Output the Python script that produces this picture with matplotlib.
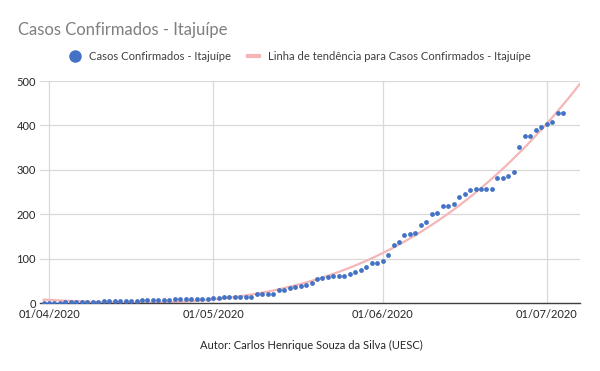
import matplotlib
matplotlib.use("Agg")
import matplotlib.pyplot as plt
import matplotlib.dates as mdates
import numpy as np
import pandas as pd
from matplotlib.lines import Line2D

plt.rcParams['font.family'] = ['Lato', 'DejaVu Sans']

title = "Casos Confirmados - Itajuípe"
series_label = "Casos Confirmados - Itajuípe"
trend_label = "Linha de tendência para Casos Confirmados - Itajuípe"
caption = "Autor: Carlos Henrique Souza da Silva (UESC)"

start_date = "2020-03-31"
values_march = [1]
values_april = [1, 1, 1, 2, 2, 2, 2, 3, 3, 3, 4, 4, 4, 5, 5,
                5, 5, 6, 6, 6, 7, 7, 7, 8, 8, 8, 9, 9, 10, 10]
values_may = [12, 12, 13, 13, 13, 13, 13, 13, 21, 21, 21, 21, 29, 30, 33, 35,
              39, 41, 46, 54, 57, 58, 61, 61, 60, 65, 70, 74, 81, 90, 90]
values_june = [95, 107, 131, 137, 154, 155, 158, 175, 182, 200, 203, 219, 219, 223, 239,
               246, 254, 256, 256, 256, 256, 281, 282, 285, 294, 352, 377, 377, 390, 397]
values_july = [404, 407, 428, 428]
tick_dates = ["2020-04-01", "2020-05-01", "2020-06-01", "2020-07-01"]
tick_labels = ["01/04/2020", "01/05/2020", "01/06/2020", "01/07/2020"]
forecast_days = 3

values = np.array(values_march + values_april + values_may + values_june + values_july, dtype=float)
dates = pd.date_range(start_date, periods=len(values), freq="D")

# polynomial trendline (Excel style), forecast forward
t = np.arange(len(values))
coef = np.polyfit(t, values, 3)
t_ext = np.arange(len(values) + forecast_days)
trend = np.polyval(coef, t_ext)
trend_dates = pd.date_range(start_date, periods=len(t_ext), freq="D")

fig = plt.figure(figsize=(6.0, 3.71), dpi=100)
ax = fig.add_axes([40/600, 1-303/371, 540/600, (303-81)/371])

blue = "#4472C4"
pink = "#F4B6B6"
ax.plot(trend_dates, trend, color=pink, lw=1.6, zorder=2)
ax.scatter(dates, values, s=12, color=blue, zorder=3, linewidths=0)

ax.set_ylim(0, 500)
x0 = mdates.date2num(pd.Timestamp("2020-04-01"))
ax.set_xlim(x0 - 1.65, x0 + 97.1)
ax.set_yticks([0, 100, 200, 300, 400, 500])
ax.set_xticks([pd.Timestamp(d) for d in tick_dates])
ax.set_xticklabels(tick_labels)
ax.grid(True, color="#D9D9D9", lw=0.9, zorder=0)
ax.set_axisbelow(True)
for s in ["top", "right", "left"]:
    ax.spines[s].set_visible(False)
ax.spines["bottom"].set_color("#404040")
ax.spines["bottom"].set_linewidth(1.0)
ax.tick_params(axis="both", length=0, labelsize=8.0, colors="#404040", labelcolor="#262626")
ax.tick_params(axis="y", pad=3)
ax.tick_params(axis="x", pad=4)

fig.text(18/600, 1-30/371, title, fontsize=12, color="#7F7F7F", va="center", ha="left")

handles = [Line2D([], [], marker="o", ls="none", color=blue, markersize=8),
           Line2D([], [], color=pink, lw=3)]
fig.legend(handles, [series_label, trend_label], loc="center", bbox_to_anchor=(300/600, 1-56/371),
           ncol=2, frameon=False, fontsize=8.1, handlelength=1.0, handletextpad=0.8,
           columnspacing=1.5, labelcolor="#404040")

fig.text(311/600, 1-345/371, caption, fontsize=8.0, color="#262626", ha="center", va="center")

fig.savefig("out.png", dpi=100)
